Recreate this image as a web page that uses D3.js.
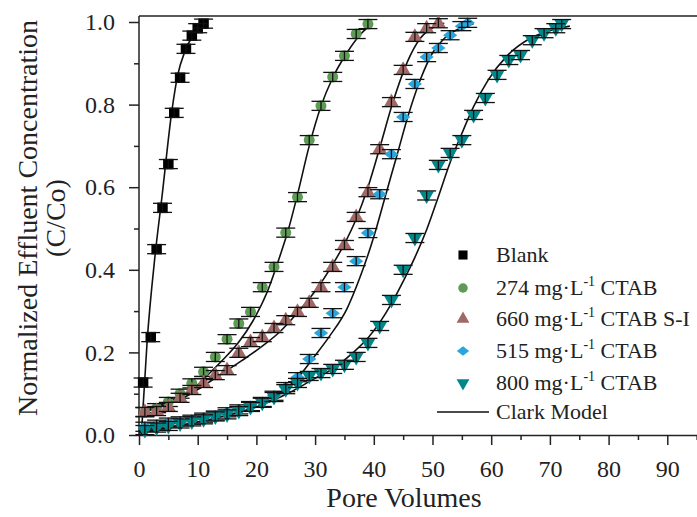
<!doctype html>
<html lang="en">
  <head>
    <meta charset="UTF-8" />
    <title>Breakthrough curves with Clark model</title>
    <script src="https://d3js.org/d3.v7.min.js"></script>
    <style>
      body {
        margin: 0;
        background: #fff;
      }
      svg {
        display: block;
        font-family: 'Liberation Serif', 'Times New Roman', serif;
      }
      .axis path,
      .axis line {
        stroke: #222;
        stroke-width: 1.5;
      }
      .axis text {
        font-family: 'Liberation Serif', 'Times New Roman', serif;
        font-size: 24px;
        fill: #222;
      }
      .axis-title {
        font-size: 28px;
        fill: #222;
      }
      .legend-text {
        font-size: 22px;
        fill: #222;
      }
      .model {
        fill: none;
        stroke: #111;
        stroke-width: 1.6;
      }
      .err line {
        stroke: #111;
        stroke-width: 1.3;
      }
    </style>
  </head>
  <body>
    <svg id="chart"></svg>
    <script>
      // measured points [pore volumes, C/Co]
      const blank = [[0.7,0.127],[2,0.237],[3,0.45],[4,0.55],[5,0.656],[6,0.78],[7,0.865],[8,0.935],[9,0.967],[10,0.985],[11,0.996]]
      const ctab274 = [[1,0.055],[3,0.065],[5,0.08],[7,0.1],[9,0.125],[11,0.153],[13,0.189],[15,0.232],[17,0.27],[19,0.298],[21,0.358],[23,0.407],[25,0.49],[27,0.576],[29,0.714],[31,0.797],[33,0.867],[35,0.918],[37,0.971],[39,0.995]]
      const ctab660 = [[1,0.056],[3,0.058],[5,0.068],[7,0.09],[9,0.109],[11,0.126],[13,0.145],[15,0.157],[17,0.199],[19,0.225],[21,0.237],[23,0.259],[25,0.278],[27,0.298],[29,0.32],[31,0.358],[33,0.407],[35,0.46],[37,0.528],[39,0.588],[41,0.692],[43,0.806],[45,0.884],[47,0.964],[49,0.985],[51,0.997]]
      const ctab515 = [[1,0.02],[3,0.025],[5,0.03],[7,0.033],[9,0.037],[11,0.042],[13,0.047],[15,0.055],[17,0.062],[19,0.07],[21,0.08],[23,0.095],[25,0.116],[27,0.14],[29,0.184],[31,0.247],[33,0.295],[35,0.358],[37,0.421],[39,0.489],[41,0.583],[43,0.68],[45,0.77],[47,0.85],[49,0.915],[51,0.937],[53,0.968],[55,0.99],[56,0.998]]
      const ctab800 = [[1,0.012],[3,0.018],[5,0.022],[7,0.028],[9,0.033],[11,0.038],[13,0.045],[15,0.05],[17,0.058],[19,0.068],[21,0.078],[23,0.092],[25,0.111],[27,0.126],[29,0.143],[31,0.15],[33,0.16],[35,0.17],[37,0.189],[39,0.223],[41,0.264],[43,0.327],[45,0.4],[47,0.477],[49,0.58],[51,0.654],[53,0.683],[55,0.714],[57,0.775],[59,0.816],[61,0.872],[63,0.908],[65,0.92],[67,0.956],[69,0.973],[71,0.985],[72,0.995]]

      // Clark model lines
      const clarkBlank = [[0.4,0],[1.4,0.23],[2.7,0.43],[3.9,0.575],[5.6,0.785],[6.6,0.872],[7.8,0.928],[9,0.963],[10,0.982],[11,0.995]]
      const clark274 = [[0,0.05],[1,0.057],[5,0.08],[9,0.109],[12.4,0.155],[14,0.178],[17,0.225],[19.4,0.276],[21.8,0.345],[24,0.433],[25.5,0.5],[27,0.582],[29,0.7],[31,0.796],[33,0.865],[35.4,0.925],[37.6,0.968],[39.2,0.99]]
      const clark660 = [[0,0.05],[2.7,0.064],[7.8,0.092],[13,0.138],[17.5,0.18],[21,0.215],[24,0.25],[27,0.296],[29,0.33],[31,0.368],[33,0.413],[35,0.463],[37,0.523],[39,0.6],[41,0.695],[43.3,0.808],[45.7,0.903],[47.9,0.96],[50,0.986],[52,0.997]]
      const clark515 = [[0,0.01],[2.7,0.019],[10.7,0.04],[19.2,0.073],[24,0.102],[27,0.138],[29.6,0.185],[32.5,0.24],[35.4,0.305],[37.6,0.38],[40,0.48],[42,0.58],[44,0.68],[46,0.78],[48,0.863],[50,0.925],[52,0.96],[54,0.98],[56,0.992],[57,0.996]]
      const clark800 = [[0,0.005],[5,0.018],[10,0.032],[15,0.048],[20,0.068],[25,0.098],[30,0.137],[33,0.16],[36.5,0.2],[39,0.235],[41,0.272],[43,0.318],[45,0.372],[47,0.43],[49,0.497],[51,0.577],[53,0.66],[55,0.73],[57,0.795],[59.5,0.86],[62.7,0.918],[66.6,0.96],[70.5,0.981],[73.4,0.99]]

      const errC = 0.011
      const xTicks = [0, 10, 20, 30, 40, 50, 60, 70, 80, 90]
      const xMinor = [5, 15, 25, 35, 45, 55, 65, 75, 85, 95]
      const yTicks = [0, 0.2, 0.4, 0.6, 0.8, 1.0]
      const yMinor = [0.1, 0.3, 0.5, 0.7, 0.9]

      const legendLabels = [
        { name: 'Blank' },
        { name: '274 mg·L', sup: '-1', rest: ' CTAB' },
        { name: '660 mg·L', sup: '-1', rest: ' CTAB S-I' },
        { name: '515 mg·L', sup: '-1', rest: ' CTAB' },
        { name: '800 mg·L', sup: '-1', rest: ' CTAB' },
        { name: 'Clark Model' },
      ]

      const W = 697
      const H = 517
      const svg = d3.select('#chart').attr('width', W).attr('height', H)

      const x = d3.scaleLinear().domain([0, 100]).range([139, 726])
      const y = d3.scaleLinear().domain([0, 1]).range([435, 22])

      const series = [
        { data: blank, model: clarkBlank, color: '#000000', shape: d3.symbolSquare, size: 110, tf: '' },
        { data: ctab274, model: clark274, color: '#5e9c56', shape: d3.symbolCircle, size: 95, tf: '' },
        { data: ctab660, model: clark660, color: '#a06966', shape: d3.symbolTriangle, size: 95, tf: '' },
        { data: ctab515, model: clark515, color: '#2ba6dd', shape: d3.symbolSquare, size: 60, tf: ' scale(1.3,1) rotate(45)' },
        { data: ctab800, model: clark800, color: '#00878a', shape: d3.symbolTriangle, size: 95, tf: ' rotate(180)' },
      ]

      // frame top line
      svg.append('line')
        .attr('x1', x(0)).attr('x2', W)
        .attr('y1', 16).attr('y2', 16)
        .attr('stroke', '#222').attr('stroke-width', 1.5)

      // axes
      svg.append('g').attr('class', 'axis')
        .attr('transform', `translate(0,${y(0)})`)
        .call(d3.axisBottom(x).tickValues(xTicks).tickSize(10).tickPadding(15).tickSizeOuter(0))
      svg.append('g').attr('class', 'axis')
        .attr('transform', `translate(0,${y(0)})`)
        .call(d3.axisBottom(x).tickValues(xMinor).tickSize(5).tickFormat('').tickSizeOuter(0))
        .select('.domain').remove()

      svg.append('g').attr('class', 'axis')
        .attr('transform', `translate(${x(0)},0)`)
        .call(d3.axisLeft(y).tickValues(yTicks).tickFormat(d3.format('.1f')).tickSize(10).tickPadding(14).tickSizeOuter(0))
        .select('.domain').attr('d', `M0,${y(0)}V16`)
      svg.append('g').attr('class', 'axis')
        .attr('transform', `translate(${x(0)},0)`)
        .call(d3.axisLeft(y).tickValues(yMinor).tickSize(5).tickFormat('').tickSizeOuter(0))
        .select('.domain').remove()

      // axis titles
      svg.append('text').attr('class', 'axis-title')
        .attr('x', 404).attr('y', 507)
        .attr('text-anchor', 'middle')
        .text('Pore Volumes')
      svg.append('text').attr('class', 'axis-title')
        .attr('transform', 'translate(37,218) rotate(-90)')
        .attr('text-anchor', 'middle')
        .text('Normalized Effluent Concentration')
      svg.append('text').attr('class', 'axis-title')
        .attr('transform', 'translate(65,218) rotate(-90)')
        .attr('text-anchor', 'middle')
        .text('(C/Co)')

      const plot = svg.append('g')

      // model curves
      const line = d3.line()
        .x((d) => x(d[0]))
        .y((d) => y(d[1]))
        .curve(d3.curveMonotoneX)
      series.forEach((s) => {
        plot.append('path').attr('class', 'model').attr('d', line(s.model))
      })

      // markers and error bars
      series.forEach((s) => {
        const sym = d3.symbol().type(s.shape).size(s.size)
        plot.append('g').selectAll('path')
          .data(s.data)
          .join('path')
          .attr('d', sym)
          .attr('fill', s.color)
          .attr('transform', (d) => `translate(${x(d[0])},${y(d[1])})` + s.tf)

        const eb = plot.append('g').attr('class', 'err')
          .selectAll('g').data(s.data).join('g')
          .attr('transform', (d) => `translate(${x(d[0])},0)`)
        eb.append('line')
          .attr('y1', (d) => y(d[1] - errC)).attr('y2', (d) => y(d[1] + errC))
        eb.append('line')
          .attr('x1', -9.5).attr('x2', 9.5)
          .attr('y1', (d) => y(d[1] - errC)).attr('y2', (d) => y(d[1] - errC))
        eb.append('line')
          .attr('x1', -9.5).attr('x2', 9.5)
          .attr('y1', (d) => y(d[1] + errC)).attr('y2', (d) => y(d[1] + errC))
      })

      // legend
      const legendY = [255, 288, 319, 351, 383, 412]
      const legend = svg.append('g')
      legendLabels.forEach((l, i) => {
        const ly = legendY[i]
        if (i < series.length) {
          const s = series[i]
          legend.append('path')
            .attr('d', d3.symbol().type(s.shape).size(s.size * 0.75))
            .attr('fill', s.color)
            .attr('transform', `translate(463,${ly})` + s.tf)
        } else {
          legend.append('line')
            .attr('x1', 437).attr('x2', 489)
            .attr('y1', ly).attr('y2', ly)
            .attr('stroke', '#111').attr('stroke-width', 1.6)
        }
        const t = legend.append('text').attr('class', 'legend-text')
          .attr('x', 496).attr('y', ly + 7)
        t.append('tspan').text(l.name)
        if (l.sup) {
          t.append('tspan').attr('font-size', 14).attr('dy', -9).text(l.sup)
          t.append('tspan').attr('dy', 9).text(l.rest)
        }
      })
    </script>
  </body>
</html>
